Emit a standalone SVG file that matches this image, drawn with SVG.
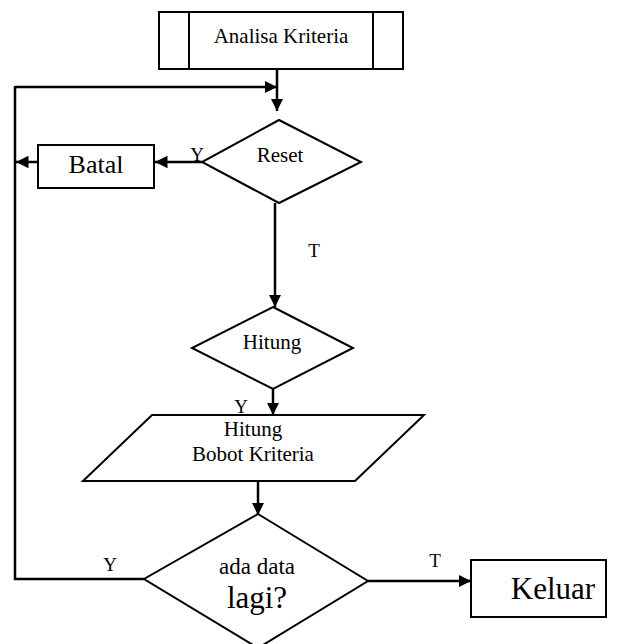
<svg xmlns="http://www.w3.org/2000/svg" width="624" height="644" viewBox="0 0 624 644">
  <style>
    .shape { fill: #fff; stroke: #000; stroke-width: 2; }
    .line { fill: none; stroke: #000; stroke-width: 2.5; }
    text { font-family: "Liberation Serif", "Times New Roman", "DejaVu Serif", serif; fill: #000; text-anchor: middle; font-size: 21px; }
    .lbl { font-size: 19px; }
    .mid { font-size: 23px; }
    .batal { font-size: 26px; }
    .big { font-size: 31px; }
  </style>
  <defs>
    <marker id="arrow" viewBox="0 0 10 10" refX="10" refY="5" markerWidth="5" markerHeight="5" markerUnits="strokeWidth" orient="auto">
      <path d="M0,0 L10,5 L0,10 Z" fill="#000"/>
    </marker>
  </defs>
  <rect width="624" height="644" fill="#fff"/>

  <g id="connectors">
    <!-- start to Reset -->
    <line class="line" x1="277" y1="69" x2="277" y2="111" marker-end="url(#arrow)"/>
    <!-- loop back entry -->
    <line class="line" x1="15" y1="87" x2="277" y2="87" marker-end="url(#arrow)"/>
    <!-- loop back trunk -->
    <line class="line" x1="15" y1="86" x2="15" y2="580"/>
    <!-- Reset Y to Batal -->
    <line class="line" x1="202" y1="162" x2="155" y2="162" marker-end="url(#arrow)"/>
    <!-- Batal to trunk -->
    <line class="line" x1="38" y1="162" x2="16" y2="162" marker-end="url(#arrow)"/>
    <!-- Reset T to Hitung -->
    <line class="line" x1="275" y1="203" x2="275" y2="307" marker-end="url(#arrow)"/>
    <!-- Hitung Y to process -->
    <line class="line" x1="273" y1="389" x2="273" y2="415" marker-end="url(#arrow)"/>
    <!-- process to decision -->
    <line class="line" x1="258" y1="481" x2="258" y2="515" marker-end="url(#arrow)"/>
    <!-- decision Y back to trunk -->
    <line class="line" x1="144" y1="579" x2="14" y2="579"/>
    <!-- decision T to Keluar -->
    <line class="line" x1="368" y1="581" x2="471" y2="581" marker-end="url(#arrow)"/>
  </g>

  <g id="analisa-kriteria">
    <rect class="shape" x="159" y="12" width="244" height="57"/>
    <line class="shape" x1="189" y1="12" x2="189" y2="69"/>
    <line class="shape" x1="373" y1="12" x2="373" y2="69"/>
    <text x="281" y="43">Analisa Kriteria</text>
  </g>

  <g id="reset">
    <polygon class="shape" points="279,120 361,162 279,203 202,162"/>
    <text x="280" y="162">Reset</text>
  </g>

  <g id="batal">
    <rect class="shape" x="38" y="145" width="116" height="43"/>
    <text class="batal" x="96" y="173">Batal</text>
  </g>

  <g id="hitung">
    <polygon class="shape" points="273,307 353,348 273,389 192,348"/>
    <text x="272" y="349">Hitung</text>
  </g>

  <g id="hitung-bobot">
    <polygon class="shape" points="152,415 424,415 355,481 83,481"/>
    <text x="253" y="436">Hitung</text>
    <text x="253" y="461">Bobot Kriteria</text>
  </g>

  <g id="ada-data">
    <polygon class="shape" points="258,514 368,581 258,648 144,579"/>
    <text class="mid" x="257" y="574">ada data</text>
    <text class="big" x="257" y="608">lagi?</text>
  </g>

  <g id="keluar">
    <rect class="shape" x="471" y="560" width="135" height="57"/>
    <text class="big" x="553" y="599">Keluar</text>
  </g>

  <g id="labels">
    <text class="lbl" x="197" y="161">Y</text>
    <text class="lbl" x="314" y="257">T</text>
    <text class="lbl" x="241" y="413">Y</text>
    <text class="lbl" x="110" y="571">Y</text>
    <text class="lbl" x="435" y="567">T</text>
  </g>
</svg>
